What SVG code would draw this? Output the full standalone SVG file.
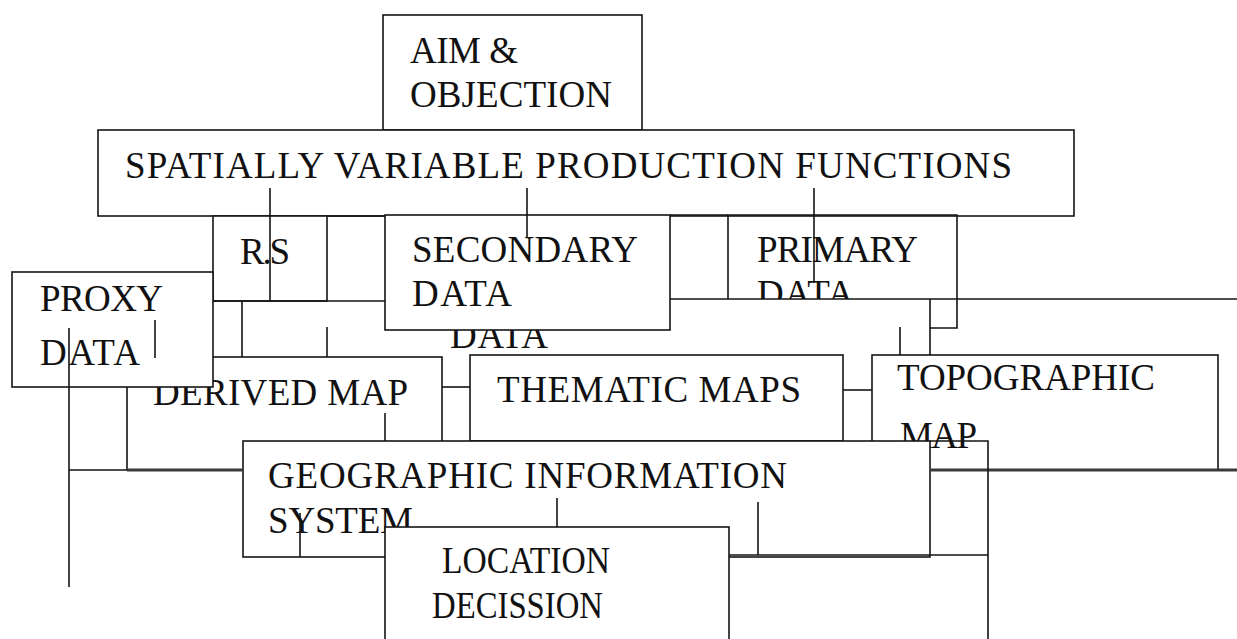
<svg xmlns="http://www.w3.org/2000/svg" width="1237" height="639" viewBox="0 0 1237 639">
  <style>
    .box { fill: #fff; stroke: #151515; stroke-width: 1.6; }
    .edge { fill: none; stroke: #151515; stroke-width: 1.6; }
    .lbl { font-family: "Liberation Serif", "Times New Roman", serif; font-size: 37px; fill: #111; }
    .wire { fill: none; stroke: #151515; stroke-width: 1.6; }
    .heavy { fill: none; stroke: #3a3a3a; stroke-width: 3; }
  </style>
  <defs>
    <clipPath id="above299"><rect x="0" y="0" width="1237" height="299"/></clipPath>
  </defs>

  <g id="aim-objection">
    <rect class="box" x="383" y="15" width="259" height="115"/>
    <text class="lbl" x="410" y="63" textLength="108" lengthAdjust="spacing">AIM &amp;</text>
    <text class="lbl" x="410" y="107" textLength="202" lengthAdjust="spacing">OBJECTION</text>
  </g>

  <g id="production-functions">
    <rect class="box" x="98" y="130" width="976" height="86"/>
    <text class="lbl" x="125" y="178" textLength="887" lengthAdjust="spacing">SPATIALLY VARIABLE PRODUCTION FUNCTIONS</text>
  </g>

  <g id="remote-sensing">
    <rect class="box" x="213" y="216" width="114" height="85"/>
    <text class="lbl" x="240" y="264" textLength="50" lengthAdjust="spacing">R.S</text>
  </g>

  <g id="primary-data">
    <path class="edge" d="M728,299 V215 H957 V328 H930"/>
    <text class="lbl" x="757" y="262" textLength="161" lengthAdjust="spacing">PRIMARY</text>
    <text class="lbl" x="757" y="306" textLength="97" lengthAdjust="spacing" clip-path="url(#above299)">DATA</text>
  </g>

  <g id="secondary-data">
    <text class="lbl" x="450" y="348" textLength="98" lengthAdjust="spacing">DATA</text>
    <rect class="box" x="385" y="215" width="285" height="115"/>
    <text class="lbl" x="412" y="262" textLength="226" lengthAdjust="spacing">SECONDARY</text>
    <text class="lbl" x="412" y="306" textLength="100" lengthAdjust="spacing">DATA</text>
  </g>

  <g id="derived-map">
    <rect class="box" x="127" y="357" width="315" height="113"/>
    <text class="lbl" x="153" y="405" textLength="255" lengthAdjust="spacing">DERIVED MAP</text>
  </g>

  <g id="proxy-data">
    <rect class="box" x="12" y="272" width="201" height="115"/>
    <text class="lbl" x="40" y="311" textLength="123" lengthAdjust="spacing">PROXY</text>
    <text class="lbl" x="40" y="365" textLength="100" lengthAdjust="spacing">DATA</text>
  </g>

  <g id="thematic-maps">
    <rect class="box" x="470" y="355" width="373" height="86"/>
    <text class="lbl" x="497" y="402" textLength="304" lengthAdjust="spacing">THEMATIC MAPS</text>
  </g>

  <g id="topographic-map">
    <rect class="box" x="872" y="355" width="346" height="115"/>
    <text class="lbl" x="897" y="390" textLength="258" lengthAdjust="spacing">TOPOGRAPHIC</text>
    <text class="lbl" x="900" y="448" textLength="77" lengthAdjust="spacing">MAP</text>
  </g>

  <g id="gis">
    <rect class="box" x="243" y="441" width="687" height="116"/>
    <text class="lbl" x="268" y="488" textLength="519" lengthAdjust="spacing">GEOGRAPHIC INFORMATION</text>
    <text class="lbl" x="268" y="533" textLength="145" lengthAdjust="spacing">SYSTEM</text>
  </g>

  <g id="location-decision">
    <rect class="box" x="385" y="527" width="344" height="130"/>
    <text class="lbl" x="442" y="573" textLength="168" lengthAdjust="spacingAndGlyphs">LOCATION</text>
    <text class="lbl" x="432" y="618" textLength="171" lengthAdjust="spacingAndGlyphs">DECISSION</text>
  </g>

  <g id="connectors">
    <!-- drops from the production functions box -->
    <path class="wire" d="M270,188 V301"/>
    <path class="wire" d="M527,188 V238"/>
    <path class="wire" d="M814,188 V283"/>
    <!-- data tier frame -->
    <path class="wire" d="M327,216 H385 M213,301 H385 M242,301 V357"/>
    <path class="wire" d="M670,215 H728 M670,299 H1237"/>
    <path class="wire" d="M327,327 V357"/>
    <path class="wire" d="M930,299 V355 M900,327 V355"/>
    <!-- proxy data feeds -->
    <path class="wire" d="M155,320 V358"/>
    <path class="wire" d="M69,328 V587 M69,470 H127"/>
    <path class="heavy" d="M127,470 H243"/>
    <!-- map tier links -->
    <path class="wire" d="M442,387 H470"/>
    <path class="wire" d="M843,390 H872"/>
    <path class="wire" d="M385,413 V441"/>
    <path class="heavy" d="M930,470 H1237"/>
    <path class="wire" d="M930,441 H988 V639"/>
    <!-- GIS to location decision -->
    <path class="wire" d="M300,513 V557"/>
    <path class="wire" d="M557,498 V527"/>
    <path class="wire" d="M758,502 V555 M729,555 H988"/>
  </g>
</svg>
